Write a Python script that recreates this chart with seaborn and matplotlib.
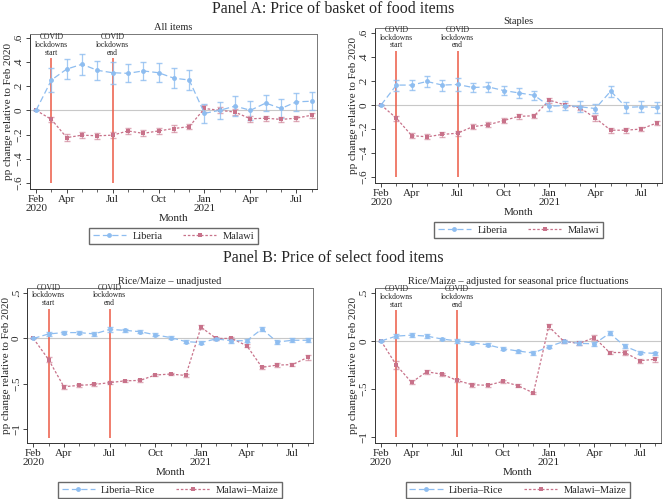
import matplotlib
matplotlib.use("Agg")
import matplotlib.pyplot as plt
import numpy as np
import pandas as pd
import seaborn as sns

# months Feb 2020 .. Aug 2021
months = pd.period_range("2020-02", "2021-08", freq="M").strftime("%b %Y").tolist()
tick_pos = [0, 2, 5, 8, 11, 14, 17]
tick_labels = ["Feb\n2020", "Apr", "Jul", "Oct", "Jan\n2021", "Apr", "Jul"]
lockdown_start, lockdown_end = 1, 5

# Panel A: all items
all_liberia = [0, 0.25, 0.34, 0.38, 0.33, 0.31, 0.305, 0.325, 0.31, 0.265, 0.25,
               -0.025, 0.0, 0.035, 0.0, 0.06, 0.015, 0.07, 0.075]
all_liberia_err = [0, 0.095, 0.08, 0.085, 0.08, 0.09, 0.075, 0.075, 0.08, 0.085, 0.085,
                   0.08, 0.07, 0.08, 0.08, 0.065, 0.075, 0.075, 0.075]
all_malawi = [0, -0.075, -0.225, -0.205, -0.21, -0.205, -0.17, -0.19, -0.17, -0.15, -0.135,
              0.015, 0.0, -0.015, -0.07, -0.065, -0.075, -0.065, -0.04]
all_malawi_err = [0, 0.02, 0.03, 0.025, 0.025, 0.025, 0.025, 0.025, 0.025, 0.025, 0.02,
                  0.025, 0.025, 0.025, 0.025, 0.02, 0.02, 0.02, 0.02]

# Panel A: staples
st_liberia = [0, 0.165, 0.165, 0.195, 0.165, 0.17, 0.145, 0.15, 0.12, 0.1, 0.08,
              -0.01, -0.005, -0.015, -0.03, 0.115, -0.02, -0.015, -0.02]
st_liberia_err = [0, 0.045, 0.04, 0.045, 0.045, 0.05, 0.04, 0.04, 0.04, 0.04, 0.04,
                  0.04, 0.04, 0.045, 0.04, 0.045, 0.045, 0.045, 0.045]
st_malawi = [0, -0.11, -0.255, -0.265, -0.245, -0.235, -0.18, -0.165, -0.13, -0.095, -0.09,
             0.04, 0.0, -0.025, -0.11, -0.21, -0.21, -0.2, -0.15]
st_malawi_err = [0, 0.02, 0.02, 0.02, 0.02, 0.02, 0.02, 0.02, 0.02, 0.02, 0.015,
                 0.02, 0.02, 0.02, 0.025, 0.02, 0.02, 0.02, 0.02]

# Panel B: rice/maize unadjusted
un_rice = [0, 0.05, 0.065, 0.065, 0.05, 0.1, 0.09, 0.075, 0.04, 0.01, -0.035,
           -0.045, -0.005, -0.025, -0.025, 0.105, -0.04, -0.02, -0.02]
un_rice_err = [0, 0.02, 0.02, 0.02, 0.02, 0.025, 0.02, 0.02, 0.015, 0.015, 0.015,
               0.02, 0.015, 0.02, 0.015, 0.02, 0.02, 0.02, 0.02]
un_maize = [0, -0.235, -0.535, -0.52, -0.51, -0.49, -0.47, -0.465, -0.405, -0.395, -0.41,
            0.125, 0.0, 0.0, -0.08, -0.32, -0.295, -0.29, -0.21]
un_maize_err = [0, 0.03, 0.02, 0.02, 0.015, 0.015, 0.015, 0.015, 0.015, 0.015, 0.015,
                0.025, 0.015, 0.02, 0.02, 0.02, 0.025, 0.02, 0.025]

# Panel B: rice/maize seasonally adjusted
adj_rice = [0, 0.05, 0.06, 0.05, 0.02, 0.0, -0.02, -0.04, -0.08, -0.105, -0.125,
            -0.06, -0.005, -0.025, -0.03, 0.08, -0.055, -0.12, -0.13]
adj_rice_err = [0, 0.02, 0.02, 0.02, 0.015, 0.02, 0.015, 0.015, 0.015, 0.015, 0.02,
                0.015, 0.015, 0.02, 0.02, 0.02, 0.02, 0.02, 0.015]
adj_maize = [0, -0.25, -0.43, -0.32, -0.345, -0.41, -0.455, -0.46, -0.42, -0.465, -0.54,
             0.15, -0.005, -0.025, 0.035, -0.12, -0.12, -0.205, -0.19]
adj_maize_err = [0, 0.04, 0.02, 0.02, 0.015, 0.02, 0.02, 0.015, 0.015, 0.015, 0.015,
                 0.025, 0.015, 0.015, 0.025, 0.02, 0.025, 0.02, 0.025]

sns.set_theme(style="ticks")
plt.rcParams["font.family"] = ["Liberation Serif", "DejaVu Serif"]

BLUE = "#8ebdf0"
PINK = "#c8728a"
RED = "#ec5a45"

fig = plt.figure(figsize=(6.66, 4.99), dpi=100)

panels = [
    # rect, title, series, labels, ylim, yticks, yticklabels, vline range
    ([0.045, 0.621, 0.431, 0.311], "All items", (all_liberia, all_liberia_err, all_malawi, all_malawi_err),
     ("Liberia", "Malawi"), (-0.65, 0.63), [-0.6, -0.4, -0.2, 0, 0.2, 0.4, 0.6],
     ["\u2212.6", "\u2212.4", "\u2212.2", "0", ".2", ".4", ".6"], (-0.6, 0.43)),
    ([0.563, 0.633, 0.431, 0.311], "Staples", (st_liberia, st_liberia_err, st_malawi, st_malawi_err),
     ("Liberia", "Malawi"), (-0.65, 0.64), [-0.6, -0.4, -0.2, 0, 0.2, 0.4, 0.6],
     ["\u2212.6", "\u2212.4", "\u2212.2", "0", ".2", ".4", ".6"], (-0.6, 0.45)),
    ([0.041, 0.112, 0.429, 0.311], "Rice/Maize \u2013 unadjusted", (un_rice, un_rice_err, un_maize, un_maize_err),
     ("Liberia\u2013Rice", "Malawi\u2013Maize"), (-1.16, 0.56), [-1, -0.5, 0, 0.5],
     ["\u22121", "\u2212.5", "0", ".5"], (-1.1, 0.33)),
    ([0.563, 0.112, 0.429, 0.311], "Rice/Maize \u2013 adjusted for seasonal price fluctuations",
     (adj_rice, adj_rice_err, adj_maize, adj_maize_err),
     ("Liberia\u2013Rice", "Malawi\u2013Maize"), (-1.06, 0.55), [-1, -0.5, 0, 0.5],
     ["\u22121", "\u2212.5", "0", ".5"], (-1.0, 0.32)),
]

x = np.arange(len(months))

for rect, title, series, labels, ylim, yticks, yticklabels, vr in panels:
    ax = fig.add_axes(rect)
    lib, lib_err, mal, mal_err = series
    ax.axhline(0, color="#c8c8c8", lw=0.8, zorder=0)
    for xv, txt in [(lockdown_start, "COVID\nlockdowns\nstart"), (lockdown_end, "COVID\nlockdowns\nend")]:
        ax.vlines(xv, vr[0], vr[1], color=RED, lw=1.1, zorder=1)
        ax.text(xv, vr[1] + 0.01 * (ylim[1] - ylim[0]), txt, ha="center", va="bottom",
                fontsize=5.5, linespacing=0.95)
    ax.errorbar(x, mal, yerr=mal_err, fmt="none", ecolor=PINK, alpha=0.6, elinewidth=0.9, capsize=2.2)
    ax.errorbar(x, lib, yerr=lib_err, fmt="none", ecolor=BLUE, alpha=0.8, elinewidth=0.9, capsize=2.2)
    sns.lineplot(x=x, y=mal, ax=ax, color=PINK, lw=0.9, linestyle=(0, (2, 1.5)),
                 marker="s", markersize=3.5, markeredgewidth=0, label=labels[1])
    sns.lineplot(x=x, y=lib, ax=ax, color=BLUE, lw=0.9, linestyle=(0, (5, 2.5)),
                 marker="o", markersize=3.5, markeredgewidth=0, label=labels[0])
    ax.set_xlim(-0.4, 18.35)
    ax.set_ylim(*ylim)
    ax.set_xticks(tick_pos)
    ax.set_xticklabels(tick_labels, fontsize=8, linespacing=0.9)
    ax.set_xticks(x, minor=True)
    ax.set_yticks(yticks)
    ax.set_yticklabels(yticklabels, fontsize=8, rotation=90, va="center")
    ax.tick_params(axis="both", which="major", length=3, width=0.6, pad=1.5)
    ax.tick_params(axis="x", which="minor", length=2, width=0.5)
    ax.set_xlabel("Month", fontsize=8, labelpad=1)
    ax.set_ylabel("pp change relative to Feb 2020", fontsize=8, labelpad=1)
    ax.set_title(title, fontsize=7.5, pad=3)
    for s in ax.spines.values():
        s.set_linewidth(0.7)
        s.set_color("#333333")
    ax.spines["top"].set_color("#777777")
    ax.spines["right"].set_color("#777777")
    h, l = ax.get_legend_handles_labels()
    ax.legend(h[::-1], l[::-1], loc="upper center", bbox_to_anchor=(0.5, -0.215), ncol=2,
              fontsize=7.5, frameon=True, fancybox=False, edgecolor="#444444",
              handlelength=3.2, handletextpad=0.6, columnspacing=2.0, borderpad=0.35)

fig.text(0.5, 0.982, "Panel A: Price of basket of food items", ha="center", va="center", fontsize=11.5)
fig.text(0.5, 0.483, "Panel B: Price of select food items", ha="center", va="center", fontsize=11.5)

fig.savefig("out.png", dpi=100)
